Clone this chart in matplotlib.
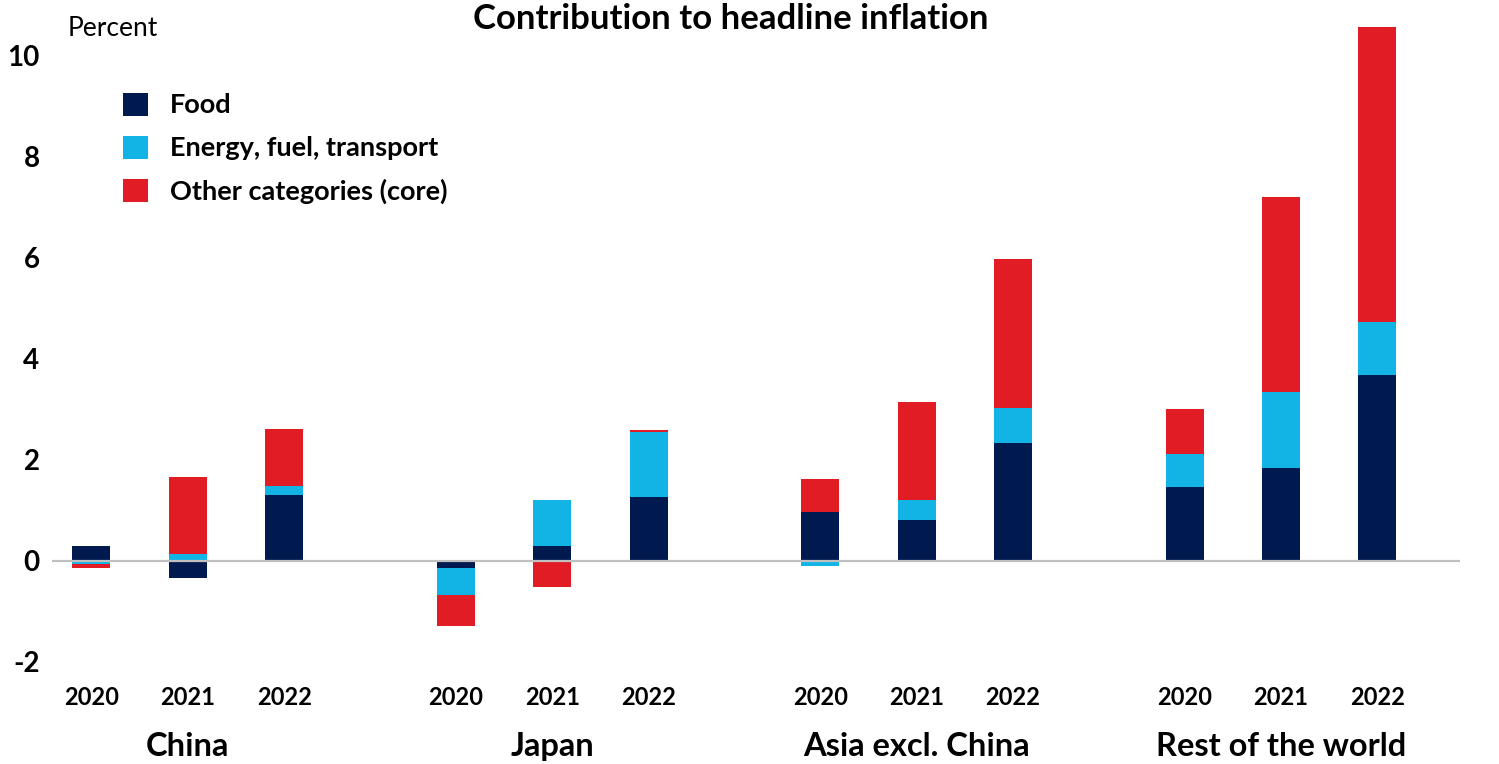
import matplotlib
matplotlib.use("Agg")
import matplotlib.pyplot as plt
import matplotlib.transforms as mtransforms
from matplotlib.patches import Patch
import numpy as np

plt.rcParams['font.family'] = ['Lato', 'DejaVu Sans']

# ---- data ----
regions = ["China", "Japan", "Asia excl. China", "Rest of the world"]
years = ["2020", "2021", "2022"]
series_names = ["Food", "Energy, fuel, transport", "Other categories (core)"]

# values per region, in year order 2020, 2021, 2022
food = [0.29, -0.34, 1.31,
        -0.15, 0.29, 1.27,
        0.97, 0.81, 2.33,
        1.46, 1.84, 3.68]
energy = [-0.07, 0.14, 0.17,
          -0.53, 0.91, 1.28,
          -0.11, 0.39, 0.69,
          0.66, 1.50, 1.05]
other = [-0.08, 1.53, 1.13,
         -0.60, -0.51, 0.04,
         0.66, 1.95, 2.96,
         0.88, 3.86, 5.83]

colors = ["#001A50", "#12B4E6", "#E21C24"]

# ---- positions: years within a region, regions separated by a gap ----
group_step = 3.78
positions = []
for g in range(len(regions)):
    for k in range(len(years)):
        positions.append(g * group_step + k)
positions = np.array(positions, dtype=float)

fig = plt.figure(figsize=(14.99, 7.64), dpi=100)
ax = fig.add_axes([0.0347, 0.1204, 0.9393, 0.853])

pos_base = np.zeros(len(positions))
neg_base = np.zeros(len(positions))
width = 0.395
for vals, col, name in zip([food, energy, other], colors, series_names):
    vals = np.array(vals)
    bottoms = np.where(vals >= 0, pos_base, neg_base)
    ax.bar(positions, vals, width=width, bottom=bottoms, color=col,
           linewidth=0, label=name, zorder=2)
    pos_base = pos_base + np.where(vals >= 0, vals, 0)
    neg_base = neg_base + np.where(vals < 0, vals, 0)

ax.axhline(0, color="#C0C0C0", linewidth=1.6, zorder=3)

ax.set_xlim(-0.409, 14.197)
ax.set_ylim(-2.2, 10.7)
ax.set_yticks([-2, 0, 2, 4, 6, 8, 10])
ax.set_yticklabels(["-2", "0", "2", "4", "6", "8", "10"], fontsize=20, fontweight='bold')
ax.set_xticks(positions)
ax.set_xticklabels(years * len(regions), fontsize=17, fontweight='bold')
ax.tick_params(axis='both', length=0)
ax.tick_params(axis='y', pad=9)
ax.tick_params(axis='x', pad=10)
for s in ax.spines.values():
    s.set_visible(False)

trans = mtransforms.blended_transform_factory(ax.transData, ax.transAxes)
for g, name in enumerate(regions):
    ax.text(g * group_step + 1, -0.1136, name, transform=trans, ha='center', va='center',
            fontsize=23.5, fontweight='bold')

fig.text(730.5 / 1499, 1 - 19 / 764, "Contribution to headline inflation", ha='center',
         va='center', fontsize=25, fontweight='bold')
fig.text(68 / 1499, 1 - 28 / 764, "Percent", ha='left', va='center', fontsize=19)

handles = [Patch(facecolor=c, edgecolor='none') for c in colors]
ax.legend(handles, series_names, loc='upper left', bbox_to_anchor=(0.0506, 0.889),
          frameon=False, prop={'weight': 'bold', 'size': 19.5},
          handlelength=0.93, handleheight=0.93, handletextpad=0.8, labelspacing=0.67,
          borderaxespad=0, borderpad=0)

fig.savefig("out.png", dpi=100)
